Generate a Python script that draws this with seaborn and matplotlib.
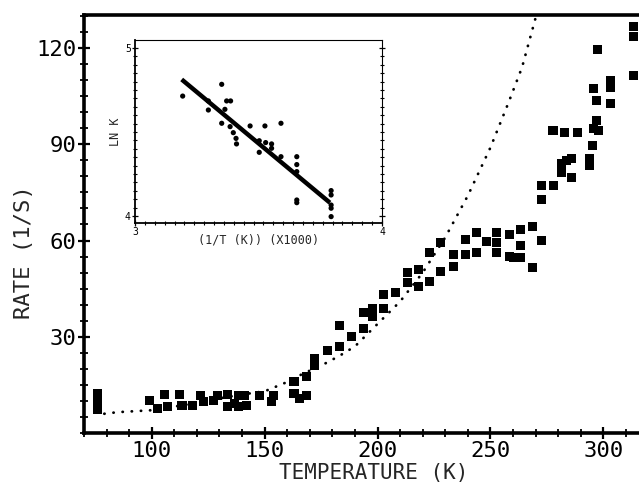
import matplotlib
matplotlib.use("Agg")
import matplotlib.pyplot as plt
from matplotlib.ticker import MultipleLocator, FixedLocator
import seaborn as sns
import pandas as pd

# Measured rates (squares)
temp_k = [76, 76, 76,
          99, 102.7, 105.8, 107, 112.5, 113.4, 117.9, 121.4, 122.8, 127.2, 129,
          133.5, 133.5, 136.6, 138.4, 138.4, 141, 142, 147.8, 153, 154, 163, 163,
          165.6, 168.7, 168.7, 171.9, 171.9,
          177.7, 183, 183, 188.4, 193.8, 193.8, 197.8, 197.8, 202.7, 202.7, 208,
          213.4, 213.4, 218.3, 218.3, 222.8, 222.8,
          227.7, 227.7, 233.5, 233.5, 238.8, 238.8, 243.8, 243.8, 248.2, 252.7,
          252.7, 252.7, 258.5, 258.5, 260.3, 263.4, 263.4, 263.4, 268.5, 268.5,
          272.8,
          272.8, 272.8, 278.1, 281.3, 281.3, 283.5, 285.7, 285.7, 277.7, 283,
          288.4, 293.8, 293.8, 295.1, 295.5, 297.8, 296.9, 296.9, 303.1, 303.1,
          303.1, 295.5, 297.3, 313.4, 313.4, 313.4]
rate = [12.3, 9.8, 7.4,
        10.2, 7.7, 12.0, 8.4, 12.0, 8.7, 8.7, 11.8, 9.9, 10.2, 11.8,
        12.0, 8.4, 9.3, 11.8, 8.4, 11.8, 8.7, 11.8, 9.9, 11.8, 16.0, 12.4,
        10.8, 11.8, 17.6, 23.2, 21.0,
        25.7, 26.9, 33.4, 30.0, 32.5, 37.7, 38.7, 36.2, 38.7, 43.3, 43.9,
        50.1, 47.0, 51.0, 45.8, 56.3, 47.3,
        59.4, 50.4, 55.7, 52.0, 60.3, 55.7, 62.5, 56.3, 59.7, 62.5,
        59.5, 56.2, 61.9, 55.0, 54.8, 63.4, 58.5, 54.7, 64.3, 51.6,
        60.0,
        77.0, 72.7, 77.0, 84.1, 81.3, 85.0, 85.7, 79.8, 94.3, 93.7,
        93.7, 85.7, 83.5, 89.7, 95.0, 94.3, 97.5, 103.6, 102.7, 107.6,
        109.8, 107.3, 119.4, 126.8, 123.7, 111.3]

# Model curve (dotted)
curve_t = [79, 85, 100, 115, 130, 140, 150, 160, 167, 175, 183, 190, 200,
           210, 220, 230, 240, 250, 258, 264, 271]
curve_rate = [6.0, 6.5, 7.1, 8.8, 10.8, 12.0, 13.0, 15.9, 18.5, 21.0, 24.0,
              27.0, 34.0, 41.0, 50.0, 61.0, 74.0, 89.0, 103.0, 114.0, 132.0]

# Arrhenius inset: ln k vs 1000/T
inv_t = [3.193, 3.297, 3.297, 3.351, 3.351, 3.364, 3.371, 3.387, 3.385, 3.398,
         3.409, 3.411, 3.466, 3.503, 3.503, 3.526, 3.529, 3.553, 3.553, 3.591,
         3.591, 3.655, 3.655, 3.655, 3.655, 3.655, 3.794, 3.794, 3.794, 3.794,
         3.794]
ln_k = [4.714, 4.685, 4.631, 4.784, 4.552, 4.635, 4.685, 4.685, 4.532, 4.496,
        4.462, 4.429, 4.536, 4.379, 4.448, 4.536, 4.437, 4.429, 4.403, 4.552,
        4.353, 4.353, 4.306, 4.264, 4.095, 4.079, 4.151, 4.125, 4.065, 4.046,
        3.996]
fit_inv_t = [3.189, 3.789]
fit_ln_k = [4.813, 4.079]

sns.set_theme(style="white")
mono = ["DejaVu Sans Mono", "DejaVu Sans"]
plt.rcParams["font.family"] = mono

fig = plt.figure(figsize=(6.39, 4.82), dpi=100)
ax = fig.add_axes([84 / 639, 49 / 482, 560 / 639, 418 / 482])

df = pd.DataFrame({"t": temp_k, "r": rate})
sns.scatterplot(data=df, x="t", y="r", ax=ax, marker="s", s=42,
                color="black", edgecolor="none", linewidth=0, zorder=3)
ax.plot(curve_t, curve_rate, color="black", lw=2.0,
        linestyle=(0, (0.1, 3.2)), dash_capstyle="round", zorder=2)

ax.set_xlim(70, 318)
ax.set_ylim(0, 130.3)
ax.xaxis.set_major_locator(FixedLocator([100, 150, 200, 250, 300]))
ax.xaxis.set_minor_locator(MultipleLocator(10))
ax.yaxis.set_major_locator(FixedLocator([30, 60, 90, 120]))
ax.yaxis.set_minor_locator(MultipleLocator(5))
ax.tick_params(which="major", direction="inout", length=9, width=1.6,
               labelsize=16, color="black", labelcolor="black", pad=1)
ax.tick_params(which="minor", direction="inout", length=6, width=1.3,
               color="black")
ax.tick_params(axis="x", which="both", bottom=True, top=False)
ax.tick_params(axis="y", which="both", left=True, right=False)
for side in ["left", "bottom", "top"]:
    ax.spines[side].set_linewidth(2.6)
    ax.spines[side].set_color("black")
ax.spines["right"].set_visible(False)

ax.set_xlabel("TEMPERATURE (K)", fontsize=15, labelpad=0)
ax.set_ylabel("RATE (1/S)", fontsize=16)
ax.xaxis.set_label_coords(0.517, -0.1105)
ax.xaxis.label.set_va("baseline")
ax.yaxis.set_label_coords(-0.108, 0.433)
ax.yaxis.label.set_va("center")

# Inset
ins = fig.add_axes([135 / 639, 259 / 482, 247 / 639, 183 / 482])
sns.scatterplot(x=inv_t, y=ln_k, ax=ins, marker="o", s=14, color="black",
                edgecolor="none", linewidth=0, zorder=3)
ins.plot(fit_inv_t, fit_ln_k, color="black", lw=3.2,
         solid_capstyle="butt", zorder=2)
ins.set_xlim(3, 4)
ins.set_ylim(3.958, 5.048)
ins.xaxis.set_major_locator(FixedLocator([3, 4]))
ins.xaxis.set_minor_locator(MultipleLocator(0.04))
ins.yaxis.set_major_locator(FixedLocator([4, 5]))
ins.yaxis.set_minor_locator(MultipleLocator(0.05))
ins.tick_params(which="major", direction="inout", length=4, width=0.9,
                labelsize=7, pad=1, color="black", labelcolor="black")
ins.tick_params(which="minor", direction="inout", length=2.5, width=0.8,
                color="black")
ins.tick_params(axis="y", which="both", right=True, left=True)
ins.tick_params(axis="x", which="both", bottom=True, top=False)
for side in ["left", "bottom"]:
    ins.spines[side].set_linewidth(1.3)
for side in ["top", "right"]:
    ins.spines[side].set_linewidth(0.8)
for s in ins.spines.values():
    s.set_color("black")
ins.set_xlabel("(1/T (K)) (X1000)", fontsize=8.5, labelpad=0)
ins.set_ylabel("LN K", fontsize=8.5, labelpad=2)
ins.xaxis.set_label_coords(0.5, -0.055)
ins.xaxis.label.set_va("top")
ins.set_facecolor("white")

fig.savefig("out.png", dpi=100, facecolor="white")
